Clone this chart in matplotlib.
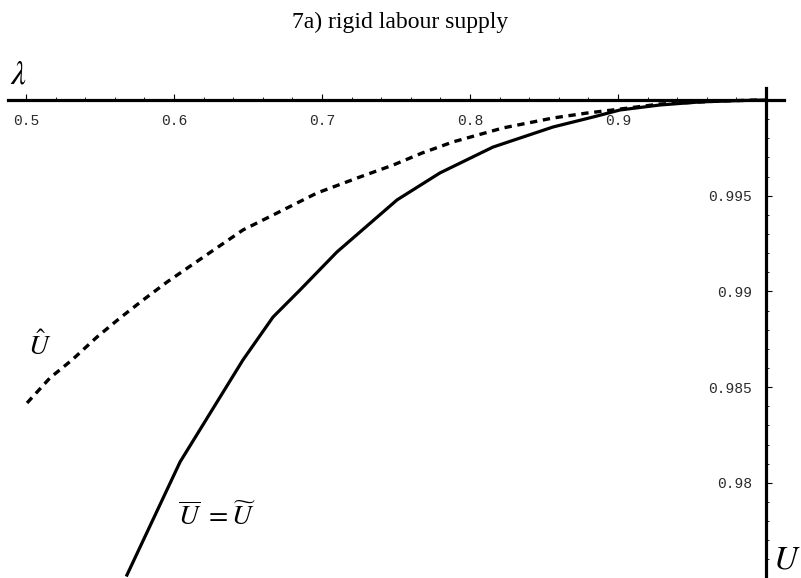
import numpy as np
import matplotlib.pyplot as plt

plt.rcParams['mathtext.fontset'] = 'stix'

# U values and lambda for the two schemes
u_bar = [0.5682, 0.6041, 0.6466, 0.6669, 0.6851, 0.7101, 0.7507, 0.7797,
         0.8155, 0.8561, 0.8831, 0.9014, 0.9284, 0.9554, 0.9824, 0.9993]
lam_bar = [0.97518, 0.98109, 0.98642, 0.98866, 0.99007, 0.99206, 0.99478, 0.99619,
           0.99754, 0.99859, 0.99911, 0.99948, 0.99974, 0.99990, 0.99997, 1.0]

u_hat = [0.5007, 0.5162, 0.5311, 0.5480, 0.5635, 0.5791, 0.5953, 0.6209, 0.6466,
         0.6669, 0.6966, 0.7257, 0.7480, 0.7676, 0.7885, 0.8223, 0.8561, 0.8791,
         0.8966, 0.9284, 0.9689, 0.9959]
lam_hat = [0.98417, 0.98548, 0.98642, 0.98762, 0.98861, 0.98955, 0.99049, 0.99185,
           0.99321, 0.99399, 0.99514, 0.99598, 0.99660, 0.99723, 0.99781, 0.99854,
           0.99906, 0.99932, 0.99948, 0.99979, 0.99995, 1.0]

x_ticks = [0.5, 0.6, 0.7, 0.8, 0.9]
x_labels = ['0.5', '0.6', '0.7', '0.8', '0.9']
y_ticks = [0.98, 0.985, 0.99, 0.995]
y_labels = ['0.98', '0.985', '0.99', '0.995']

fig = plt.figure(figsize=(8.01, 5.78), dpi=100)
ax = fig.add_axes([0, 0, 1, 1])
ax.set_facecolor('none')

ax.set_xlim(0.48243, 1.02365)
ax.set_ylim(0.975026, 1.005225)

# axes cross at (1, 1), like a Mathematica plot
for side in ['top', 'right']:
    ax.spines[side].set_visible(False)
ax.spines['bottom'].set_position(('data', 1.0))
ax.spines['left'].set_position(('data', 1.0))
ax.spines['bottom'].set_bounds(0.48784, 1.01216)
ax.spines['left'].set_bounds(0.975026, 1.000627)
for side in ['bottom', 'left']:
    ax.spines[side].set_linewidth(2.3)
    ax.spines[side].set_zorder(1)

ax.set_xticks(x_ticks, x_labels)
ax.set_yticks(y_ticks, y_labels)
# minor ticks only along the drawn part of each axis
ax.set_xticks(np.arange(0.50, 0.99, 0.02), minor=True)
ax.set_yticks(np.arange(0.976, 0.9995, 0.001), minor=True)
ax.tick_params(which='major', direction='in', length=4, width=0.8, pad=10,
               labelsize=10.5, labelcolor='#2a2a2a')
ax.tick_params(which='minor', direction='in', length=2, width=0.6)
for lbl in ax.get_xticklabels() + ax.get_yticklabels():
    lbl.set_family('Liberation Mono')

ax.plot(u_bar, lam_bar, color='black', lw=2.3, zorder=3)
ax.plot(u_hat, lam_hat, color='black', lw=2.4, dashes=(2.2, 1.7),
        dash_capstyle='butt', zorder=3)

fig.text(0.5, 1 - 22 / 578, '7a) rigid labour supply', fontsize=17,
         family='Liberation Serif', ha='center', va='center')
fig.text(18 / 801, 1 - 74 / 578, r'$\lambda$', fontsize=24, ha='center', va='center')
fig.text(787 / 801, 1 - 559 / 578, r'$U$', fontsize=24, ha='center', va='center')
fig.text(40 / 801, 1 - 346 / 578, r'$\hat{U}$', fontsize=20, ha='center', va='center')
fig.text(217 / 801, 1 - 517 / 578, r'$\overline{U}\ =\widetilde{U}$', fontsize=20,
         ha='center', va='center')

fig.savefig('out.png', dpi=100)
